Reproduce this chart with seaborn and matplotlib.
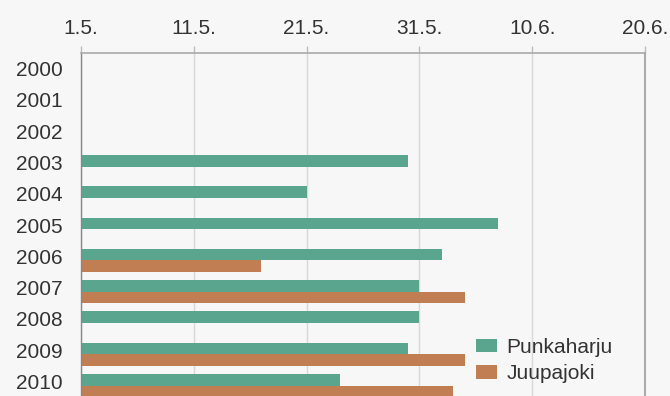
import numpy as np
import pandas as pd
import matplotlib
matplotlib.use("Agg")
import matplotlib.pyplot as plt
import seaborn as sns
from matplotlib.ticker import FixedLocator

years = ["2000", "2001", "2002", "2003", "2004", "2005", "2006", "2007", "2008", "2009", "2010"]
# days after 1 May
punkaharju = [np.nan, np.nan, np.nan, 29, 20, 37, 32, 30, 30, 29, 23]
juupajoki = [np.nan, np.nan, np.nan, np.nan, np.nan, np.nan, 16, 34, np.nan, 34, 33]
series = ["Punkaharju", "Juupajoki"]
tick_days = [0, 10, 20, 30, 40, 50]
tick_labels = ["1.5.", "11.5.", "21.5.", "31.5.", "10.6.", "20.6."]

df = pd.DataFrame({
    "year": years * 2,
    "days": punkaharju + juupajoki,
    "site": [series[0]] * len(years) + [series[1]] * len(years),
})

sns.set_style("white")
plt.rcParams["font.family"] = ["Liberation Sans", "DejaVu Sans"]
bg = "#f7f7f7"
fs = 15
fig = plt.figure(figsize=(6.7, 3.96), dpi=100, facecolor=bg)
ax = fig.add_axes([81 / 670, -0.003, (645 - 81) / 670, 0.8662 + 0.003])
ax.set_facecolor(bg)

sns.barplot(data=df, y="year", x="days", hue="site", order=years, hue_order=series,
            palette=["#5aa58e", "#c17e52"], orient="h", width=0.74, dodge=True,
            saturation=1, linewidth=0, ax=ax, legend=True)

off = 0.13  # bars sit slightly below the centre of each year band
n = len(years)
ax.set_xlim(0, 50)
ax.set_ylim(n - 0.5 - off, -0.5 - off)
ax.xaxis.tick_top()
ax.set_xticks(tick_days)
ax.set_xticklabels(tick_labels, fontsize=fs, color="#333333")
ax.tick_params(axis="x", length=5, color="#bbbbbb", pad=6, width=1)
ax.grid(axis="x", color="#d8d8d8", linewidth=1)
ax.set_axisbelow(True)
ax.set_xlabel("")
ax.set_ylabel("")
ax.set_yticks(np.arange(n) - off)
ax.set_yticklabels(years)
ax.tick_params(axis="y", which="major", length=0, pad=13, labelsize=fs, labelcolor="#333333")
ax.yaxis.set_minor_locator(FixedLocator(np.arange(-0.5, n, 1.0) - off))
ax.tick_params(axis="y", which="minor", length=7, color="#cccccc", width=1)

ax.spines["bottom"].set_visible(False)
ax.spines["top"].set_color("#aaaaaa")
ax.spines["top"].set_linewidth(1.2)
ax.spines["left"].set_color("#888888")
ax.spines["left"].set_linewidth(1)
ax.spines["right"].set_color("#aaaaaa")
ax.spines["right"].set_linewidth(1.5)

leg = ax.legend(loc="lower left", bbox_to_anchor=((476 - 81) / 564, 0.04), frameon=False,
                fontsize=fs, handlelength=1.0, handleheight=0.6, handletextpad=0.45,
                labelspacing=0.38, borderaxespad=0, borderpad=0)
for t in leg.get_texts():
    t.set_color("#333333")

fig.savefig("out.png", dpi=100, facecolor=bg)
